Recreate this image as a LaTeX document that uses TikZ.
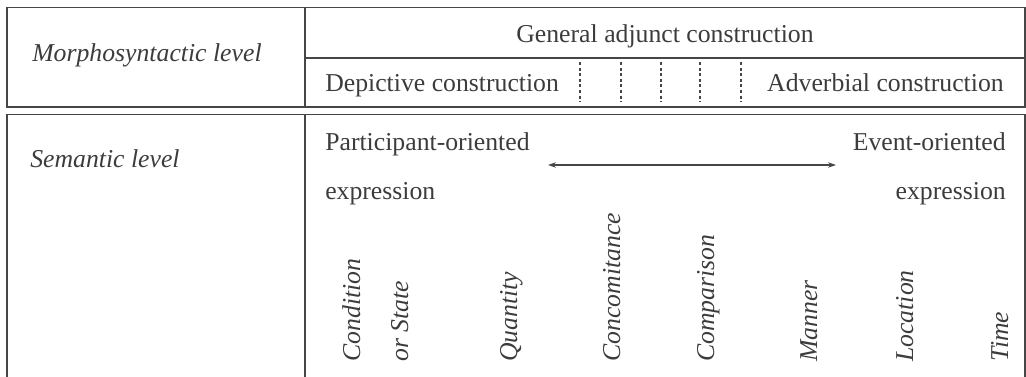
\documentclass[tikz,border=0pt]{standalone}
\usepackage{fontspec}
\setmainfont{Liberation Serif}
\usetikzlibrary{arrows.meta,positioning}
\definecolor{rulecol}{RGB}{70,70,70}
\definecolor{textcol}{RGB}{60,60,60}

\begin{document}
\begin{tikzpicture}[
  x=0.75pt, y=-0.75pt,
  >={Stealth[length=6pt,width=4pt]},
  font=\fontsize{19.3}{23}\selectfont,
  rule/.style={draw=rulecol, line width=1.2pt},
  divider/.style={draw=rulecol, line width=1.1pt, dash pattern=on 2.3pt off 1.9pt},
  txt/.style={inner sep=0pt, anchor=base west, text=textcol},
  txtr/.style={txt, anchor=base east},
  lvl/.style={txt, font=\fontsize{19.3}{23}\selectfont\itshape},
  cat/.style={txt, rotate=90, font=\fontsize{19.3}{23}\selectfont\itshape},
  spanarrow/.style={<->, draw=rulecol, line width=0.8pt}
]
\useasboundingbox (0,0) rectangle (1026,377);

% ========== Morphosyntactic box (top) ==========
\draw[rule] (7,7.5) rectangle (1025,107);
\draw[rule] (305,7.5) -- (305,107);
\draw[rule] (305,58) -- (1025,58);

\node[lvl] (morph) at (32,62) {Morphosyntactic level};
\node[txt, anchor=base] (general) at (665,43) {General adjunct construction};
\node[txt] (depictive) at (325,92) {Depictive construction};
\node[txtr] (adverbial) at (1004,92) {Adverbial construction};

% gradual transition between the two constructions
\foreach \x in {580,621,661,700,741}
  \draw[divider] (\x,62) -- (\x,102);

% ========== Semantic box (bottom, open) ==========
\draw[rule] (7,380) -- (7,114.5) -- (1025,114.5) -- (1025,380);
\draw[rule] (305,114.5) -- (305,380);

\node[lvl] (semantic) at (30,168) {Semantic level};
\node[txt] (part) at (325,151) {Participant-oriented};
\node[txt] (part-ex) at (325,200) {expression};
\node[txtr] (event) at (1006,151) {Event-oriented};
\node[txtr] (event-ex) at (1006,200) {expression};

\coordinate (span-l) at (548,165);
\coordinate (span-r) at (836,165);
\draw[spanarrow] (span-l) -- (span-r);

% semantic categories (rotated)
\foreach \name/\x/\lab in {cond/360/Condition, state/408/or State,
    quant/517/Quantity, concom/620/Concomitance, compar/714/Comparison,
    manner/817/Manner, loc/913/Location, time/1008/Time}
  \node[cat] (\name) at (\x,362) {\lab};

\end{tikzpicture}
\end{document}
